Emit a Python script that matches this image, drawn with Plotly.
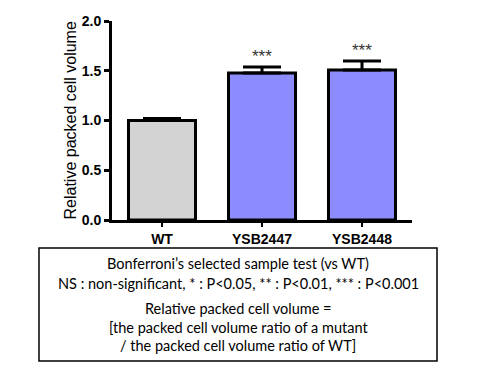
import plotly.graph_objects as go

categories = ["WT", "YSB2447", "YSB2448"]
values = [1.0, 1.477, 1.508]
errors = [0.02, 0.06, 0.09]
significance = ["", "***", "***"]
bar_colors = ["#d3d3d3", "#8c8cff", "#8c8cff"]
y_ticks = [0.0, 0.5, 1.0, 1.5, 2.0]
y_tick_labels = ["0.0", "0.5", "1.0", "1.5", "2.0"]
note_lines = [
    "Bonferroni’s selected sample test (vs WT)",
    "NS : non-significant, * : P<0.05, ** : P<0.01, *** : P<0.001",
    "Relative packed cell volume =",
    "[the packed cell volume ratio of a mutant",
    "/ the packed cell volume ratio of WT]",
]

W, H = 480, 370
L, R, T, B = 112, 68, 21, 150
pw, ph = W - L - R, H - T - B
ARIAL = "Liberation Sans, Arial"

def px_x(x):
    return (x - L) / pw

def px_y(y):
    return (H - B - y) / ph

fig = go.Figure()
fig.add_trace(go.Bar(
    x=categories, y=values, width=0.67,
    marker=dict(color=bar_colors, line=dict(color="black", width=3)),
    error_y=dict(type="data", symmetric=False, array=errors,
                 arrayminus=[0] * len(errors), color="black",
                 thickness=3, width=19),
    hoverinfo="skip",
))

for c, v, e, s in zip(categories, values, errors, significance):
    if s:
        fig.add_annotation(x=c, y=v + e, text=s, showarrow=False,
                           yanchor="bottom", yshift=-1,
                           font=dict(family=ARIAL, size=17, color="#333333"))

fig.add_annotation(xref="paper", yref="paper", x=px_x(70), y=0.5,
                   xanchor="center", yanchor="middle",
                   text="Relative packed cell volume", textangle=-90,
                   showarrow=False,
                   font=dict(family=ARIAL, size=16, color="black"))

# note box
fig.add_shape(type="rect", xref="paper", yref="paper",
              x0=px_x(39), x1=px_x(437), y0=px_y(361), y1=px_y(248),
              line=dict(color="black", width=1.5))
line_ys = [263, 283, 308, 327, 346]
for t, yy in zip(note_lines, line_ys):
    fig.add_annotation(xref="paper", yref="paper", x=px_x(238), y=px_y(yy),
                       text=t, showarrow=False, yanchor="middle",
                       xanchor="center",
                       font=dict(family="Lato", size=14.5, color="black"))

fig.update_layout(
    width=W, height=H, margin=dict(l=L, r=R, t=T, b=B),
    plot_bgcolor="white", paper_bgcolor="white", showlegend=False,
)
fig.update_xaxes(range=[-0.5, 2.5], showline=True, linecolor="black",
                 linewidth=3, ticks="outside", ticklen=4, tickwidth=2,
                 tickcolor="black",
                 tickfont=dict(family=ARIAL, size=14, color="black"),
                 tickprefix="<b>", ticksuffix="</b>", showgrid=False)
fig.update_yaxes(range=[0, 2.0], tickvals=y_ticks,
                 ticktext=["<b>%s</b>" % t for t in y_tick_labels],
                 showline=True, linecolor="black", linewidth=3,
                 ticks="outside", ticklen=5, tickwidth=3, tickcolor="black",
                 tickfont=dict(family=ARIAL, size=14, color="black"),
                 showgrid=False, zeroline=False)

fig.write_html("out.html", config={"displayModeBar": False},
               post_script="document.body.style.margin='0';")
